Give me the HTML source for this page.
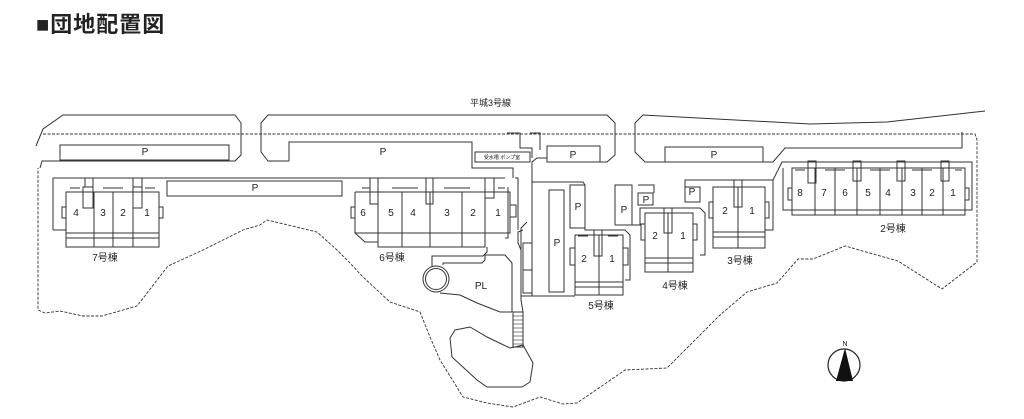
<!DOCTYPE html>
<html><head><meta charset="utf-8"><style>
html,body{margin:0;padding:0;background:#fff;width:1024px;height:419px;overflow:hidden}
svg{display:block}
text{font-family:"Liberation Sans","Noto Sans CJK JP",sans-serif;fill:#222}
</style></head><body>
<svg width="1024" height="419" viewBox="0 0 1024 419" xmlns="http://www.w3.org/2000/svg">
<text x="36" y="32" font-size="22" font-weight="bold" style="letter-spacing:1px">■団地配置図</text>
<text x="470" y="106" font-size="9">平城3号線</text>
<g fill="none" stroke="#333" stroke-width="1">
<polyline points="36,146 43,129 63,115 235,115 241,123 241,155 235,161 42,161 40,168"/>
<polyline points="289,161 268,161 261,152 261,123 268,115 607,115 615,123 615,155 607,162 600,162"/>
<polyline points="665,162 645,162 635,152 635,123 643,115 810,124 887,122 985,111"/>
<polyline points="763,162 773,162 785,148 962,148 962,132"/>
<polyline points="53,230 53,178 505,178"/>
<polyline points="53,230 66,230"/>
<rect x="60" y="145" width="169" height="15"/>
<rect x="167" y="181" width="175" height="15"/>
<polyline points="289,161 289,142 472,142 472,168 513,168 513,178"/>
<rect x="475" y="152" width="55" height="10"/>
<rect x="547" y="146" width="53" height="16"/>
<rect x="665" y="147" width="98" height="15"/>
<polyline points="507,133 520,133 520,148 532,148 532,158"/>
<polyline points="530,133 540,133 540,150"/>
<polyline points="532,222 532,162 537,158 547,158"/>
<rect x="66" y="192" width="93" height="55"/>
<line x1="94" y1="192" x2="94" y2="247"/><line x1="113" y1="192" x2="113" y2="247"/><line x1="133" y1="192" x2="133" y2="247"/>
<line x1="66" y1="233" x2="159" y2="233"/><line x1="66" y1="238" x2="159" y2="238"/>
<rect x="83" y="187" width="10" height="21"/><rect x="133" y="187" width="9" height="21"/>
<rect x="85" y="178" width="8" height="9"/><rect x="133" y="178" width="9" height="9"/>
<line x1="70" y1="188" x2="80" y2="188"/><line x1="103" y1="188" x2="123" y2="188"/><line x1="145" y1="188" x2="155" y2="188"/>
<rect x="62" y="207" width="4" height="11"/><rect x="159" y="207" width="4" height="11"/>
<polyline points="355,192 510,192 510,233 485,233 485,247 378,247 378,242 365,242 355,233 355,192"/>
<line x1="355" y1="233" x2="510" y2="233"/>
<line x1="378" y1="192" x2="378" y2="247"/><line x1="402" y1="192" x2="402" y2="247"/><line x1="430" y1="192" x2="430" y2="247"/><line x1="462" y1="192" x2="462" y2="247"/><line x1="485" y1="192" x2="485" y2="247"/>
<rect x="370" y="178" width="8" height="26"/><rect x="426" y="178" width="7" height="26"/><rect x="485" y="178" width="9" height="20"/>
<line x1="362" y1="188" x2="370" y2="188"/><line x1="392" y1="188" x2="418" y2="188"/><line x1="444" y1="188" x2="470" y2="188"/><line x1="498" y1="188" x2="505" y2="188"/>
<rect x="351" y="207" width="4" height="11"/><rect x="510" y="205" width="6" height="12"/>
<polyline points="508,187 508,238 505,238"/><polyline points="515,178 518,178 518,230"/>
<polyline points="432,267 432,256 483,256 487,252 487,247"/>
<polyline points="443,265 443,263 482,263 485,260 485,255 505,255 512,263 512,312"/>
<polyline points="440,293 460,295 477,303 500,312 512,312"/>
<circle cx="436" cy="279" r="13"/><circle cx="436" cy="279" r="10.5"/>
<rect x="513" y="312" width="10" height="35"/>
<g stroke-width="0.6"><line x1="513" y1="316" x2="523" y2="316"/><line x1="513" y1="320" x2="523" y2="320"/><line x1="513" y1="324" x2="523" y2="324"/><line x1="513" y1="328" x2="523" y2="328"/><line x1="513" y1="332" x2="523" y2="332"/><line x1="513" y1="336" x2="523" y2="336"/><line x1="513" y1="340" x2="523" y2="340"/><line x1="513" y1="344" x2="523" y2="344"/></g>
<polyline points="523,312 521,300 521,250 518,243 518,232 523,230"/>
<polygon points="455,330 470,327 487,337 510,348 515,347 523,345 533,363 530,382 522,387 487,387 477,380 452,357 450,338"/>
<polyline points="532,190 532,182 583,182 585,185 585,230 625,230 630,235 630,280 625,280"/>
<polyline points="527,222 521,228 521,296 575,296"/>
<rect x="549" y="190" width="15" height="102"/>
<rect x="570" y="185" width="15" height="43"/>
<rect x="523" y="243" width="9" height="50"/><line x1="523" y1="270" x2="532" y2="270"/>
<line x1="532" y1="222" x2="532" y2="296"/>
<rect x="575" y="235" width="48" height="60"/>
<line x1="599" y1="235" x2="599" y2="295"/>
<line x1="575" y1="282" x2="623" y2="282"/><line x1="575" y1="287" x2="623" y2="287"/>
<rect x="594" y="230" width="8" height="26"/>
<line x1="578" y1="236" x2="588" y2="236"/><line x1="608" y1="236" x2="618" y2="236"/>
<rect x="570" y="248" width="5" height="17"/><rect x="623" y="248" width="5" height="17"/>
<polyline points="615,225 615,185 632,185 632,225"/>
<polyline points="638,185 654,185 654,193"/>
<rect x="638" y="193" width="15" height="12"/>
<polyline points="615,225 640,225 640,208 700,208 705,213 705,255 700,255"/>
<rect x="645" y="213" width="48" height="59"/>
<line x1="668" y1="213" x2="668" y2="272"/>
<line x1="645" y1="258" x2="693" y2="258"/><line x1="645" y1="263" x2="693" y2="263"/>
<rect x="664" y="208" width="8" height="25"/>
<rect x="641" y="224" width="4" height="16"/><rect x="693" y="224" width="4" height="16"/>
<polyline points="685,187 685,180 773,180 773,230 765,230"/>
<rect x="685" y="187" width="15" height="15"/>
<rect x="713" y="187" width="52" height="61"/>
<line x1="738" y1="187" x2="738" y2="248"/>
<line x1="713" y1="232" x2="765" y2="232"/><line x1="713" y1="237" x2="765" y2="237"/>
<rect x="734" y="180" width="8" height="27"/>
<rect x="709" y="202" width="4" height="16"/><rect x="765" y="202" width="4" height="16"/>
<polyline points="773,180 782,162 972,162 972,210 783,210 783,168"/>
<rect x="792" y="168" width="173" height="47"/>
<line x1="815" y1="168" x2="815" y2="215"/><line x1="835" y1="168" x2="835" y2="215"/><line x1="857" y1="168" x2="857" y2="215"/><line x1="880" y1="168" x2="880" y2="215"/><line x1="902" y1="168" x2="902" y2="215"/><line x1="922" y1="168" x2="922" y2="215"/><line x1="943" y1="168" x2="943" y2="215"/>
<rect x="808" y="161" width="8" height="22"/><rect x="853" y="161" width="8" height="20"/><rect x="897" y="161" width="8" height="20"/><rect x="941" y="161" width="8" height="20"/>
<line x1="795" y1="170" x2="805" y2="170"/><line x1="825" y1="170" x2="845" y2="170"/><line x1="870" y1="170" x2="890" y2="170"/><line x1="912" y1="170" x2="932" y2="170"/><line x1="955" y1="170" x2="962" y2="170"/>
<rect x="788" y="188" width="4" height="12"/><rect x="965" y="188" width="4" height="12"/>
</g>
<g fill="none" stroke="#333" stroke-width="0.9" stroke-dasharray="3,1.5">
<polyline points="43,134 975,134 977,140 977,262 942,289 898,261 845,246 813,259 798,259 777,283 747,292 720,315 667,368 625,370 577,403 563,404 540,397 513,407 487,403 463,397 440,360 430,337 420,312 390,302 363,277 350,263 337,250 317,232 267,220 260,225 243,230 203,250 168,266 137,306 102,316 83,316 60,311 45,313 38,310 38,168"/>
</g>
<g font-size="10" text-anchor="middle">
<text x="145" y="155">P</text><text x="255" y="191">P</text><text x="383" y="155">P</text><text x="573" y="158">P</text><text x="714" y="158">P</text>
<text x="557" y="246">P</text><text x="578" y="210">P</text><text x="624" y="213">P</text><text x="646" y="203">P</text><text x="692" y="195">P</text>
<text x="76" y="216">4</text><text x="103" y="216">3</text><text x="123" y="216">2</text><text x="147" y="216">1</text>
<text x="363" y="216">6</text><text x="391" y="216">5</text><text x="413" y="216">4</text><text x="447" y="216">3</text><text x="473" y="216">2</text><text x="498" y="216">1</text>
<text x="584" y="262">2</text><text x="612" y="262">1</text>
<text x="655" y="239">2</text><text x="683" y="239">1</text>
<text x="725" y="214">2</text><text x="752" y="214">1</text>
<text x="800" y="196">8</text><text x="824" y="196">7</text><text x="845" y="196">6</text><text x="868" y="196">5</text><text x="888" y="196">4</text><text x="913" y="196">3</text><text x="932" y="196">2</text><text x="953" y="196">1</text>
<text x="481" y="289">PL</text>
<text x="105" y="261">7号棟</text><text x="392" y="261">6号棟</text><text x="601" y="309">5号棟</text><text x="675" y="289">4号棟</text><text x="740" y="264">3号棟</text><text x="893" y="232">2号棟</text>
</g>
<text x="502" y="159" font-size="5" text-anchor="middle">受水槽 ポンプ室</text>
<circle cx="844" cy="365" r="16" fill="none" stroke="#222" stroke-width="1.2"/>
<polygon points="845,348 836,381 853,381" fill="#111"/>
<text x="845" y="346" font-size="7" text-anchor="middle">N</text>
</svg>
</body></html>
